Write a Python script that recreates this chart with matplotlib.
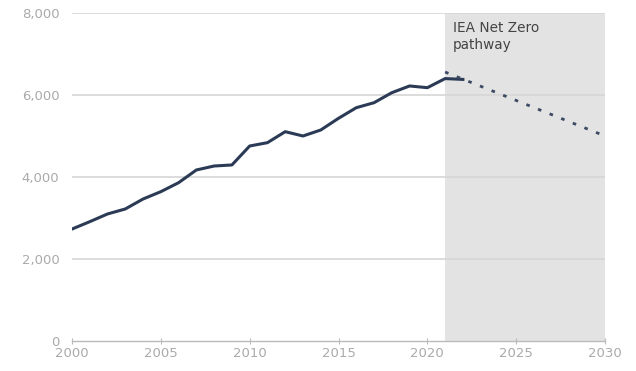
import matplotlib
matplotlib.use("Agg")
import matplotlib.pyplot as plt

years = list(range(2000, 2023))
values = [2730, 2910, 3098, 3220, 3463, 3642, 3861, 4171, 4268, 4293, 4756, 4837,
          5105, 5000, 5146, 5431, 5690, 5812, 6056, 6220, 6178, 6400, 6380]
nz_years = [2021, 2030]
nz_values = [6560, 5000]
shade_start, shade_end = 2021, 2030
yticks = [0, 2000, 4000, 6000, 8000]
xticks = [2000, 2005, 2010, 2015, 2020, 2025, 2030]
label = "IEA Net Zero\npathway"

plt.rcParams['font.family'] = ['DejaVu Sans']
fig = plt.figure(figsize=(6.36, 3.71), dpi=100)
ax = fig.add_axes([0.1132, 0.0809, 0.8381, 0.8841])

ax.axvspan(shade_start, shade_end, ymin=0, ymax=1, color='#e3e3e3', lw=0, zorder=0)
for y in yticks[1:]:
    ax.axhline(y, color='#d6d6d6', lw=1.2, zorder=1)

ax.plot(years, values, color='#2b3a55', lw=2.2, zorder=3, solid_joinstyle='round')
ax.plot(nz_years, nz_values, color='#3d4a63', lw=2.0, ls=(0, (1.3, 3.2)), zorder=3)

ax.set_xlim(2000, 2030)
ax.set_ylim(0, 8000)
ax.set_yticks(yticks)
ax.set_yticklabels([f"{v:,}" for v in yticks])
ax.set_xticks(xticks)
ax.set_xticklabels([str(x) for x in xticks])
for s in ['top', 'right', 'left']:
    ax.spines[s].set_visible(False)
ax.spines['bottom'].set_color('#bbbbbb')
ax.spines['bottom'].set_linewidth(1)
ax.spines['bottom'].set_zorder(4)
ax.tick_params(axis='y', length=0, pad=9, labelsize=9.5, labelcolor='#aaaaaa')
ax.tick_params(axis='x', length=4, direction='inout', color='#bbbbbb', pad=2,
               labelsize=9.5, labelcolor='#aaaaaa')

ax.text(2021.45, 7800, label, fontsize=9.8, color='#444444', va='top', ha='left',
        linespacing=1.3, zorder=5)

fig.savefig('out.png', dpi=100)
